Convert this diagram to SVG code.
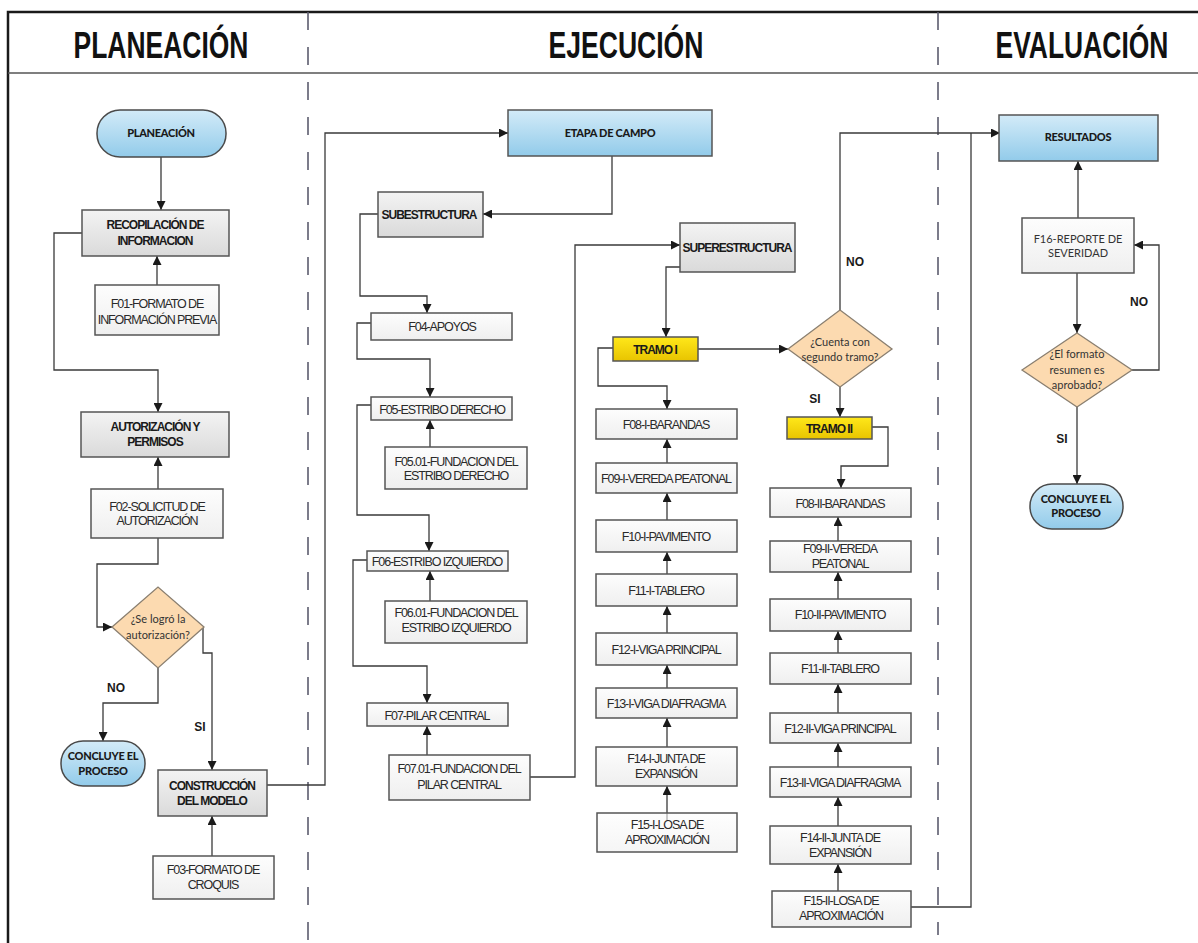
<svg xmlns="http://www.w3.org/2000/svg" width="1198" height="943" viewBox="0 0 1198 943">
<defs>
<linearGradient id="gBlue" x1="0" y1="0" x2="0" y2="1"><stop offset="0" stop-color="#d3ebf8"/><stop offset="1" stop-color="#92cbea"/></linearGradient>
<linearGradient id="gGray" x1="0" y1="0" x2="0" y2="1"><stop offset="0" stop-color="#f3f3f3"/><stop offset="1" stop-color="#dadada"/></linearGradient>
<linearGradient id="gWhite" x1="0" y1="0" x2="0" y2="1"><stop offset="0" stop-color="#fdfdfd"/><stop offset="1" stop-color="#efefef"/></linearGradient>
<linearGradient id="gYel" x1="0" y1="0" x2="0" y2="1"><stop offset="0" stop-color="#ffe81a"/><stop offset="1" stop-color="#e8c400"/></linearGradient>
<marker id="arr" viewBox="0 0 10 10" refX="10" refY="5" markerWidth="9" markerHeight="9" markerUnits="userSpaceOnUse" orient="auto"><path d="M0,0 L10,5 L0,10 z" fill="#1a1a1a"/></marker>
</defs>
<style>
.frame{stroke:#1a1a1a;stroke-width:2.5;fill:none}
.hline{stroke:#555;stroke-width:1.5;fill:none}
.dash{stroke:#5c5c6e;stroke-width:1.6;stroke-dasharray:18 17;fill:none}
.conn path{stroke:#3a3a3a;stroke-width:1.3;fill:none}
.arw{marker-end:url(#arr)}
.term{fill:url(#gBlue);stroke:#4a4a4a;stroke-width:1.5}
.blue{fill:url(#gBlue);stroke:#555;stroke-width:1.5}
.gray{fill:url(#gGray);stroke:#555;stroke-width:1.5}
.white{fill:url(#gWhite);stroke:#555;stroke-width:1.5}
.yel{fill:url(#gYel);stroke:#555;stroke-width:1.5}
.dia{fill:#fcdab0;stroke:#8a7f70;stroke-width:1.3}
.h{font-family:"Liberation Sans",Arial,sans-serif;font-weight:bold;font-size:37px;fill:#111;text-anchor:middle}
.t{font-family:"Liberation Sans",Arial,sans-serif;font-size:12.5px;letter-spacing:-1.1px;fill:#2a2a2a;text-anchor:middle}
.tb{font-family:"Liberation Sans",Arial,sans-serif;font-size:12px;letter-spacing:-1px;font-weight:bold;fill:#1a1a1a;text-anchor:middle}
.c{font-family:Lato,"Open Sans",sans-serif;font-size:11px;fill:#333;text-anchor:middle}
.cb{font-family:Lato,"Open Sans",sans-serif;font-size:11px;font-weight:900;fill:#1a1a1a;text-anchor:middle;letter-spacing:-0.3px}
.lbl{font-family:"Liberation Sans",Arial,sans-serif;font-size:12px;font-weight:bold;fill:#1a1a1a;text-anchor:middle}
</style>
<rect width="1198" height="943" fill="#ffffff"/>
<g id="frame">
<path class="frame" d="M8,943 V12 H1198"/>
<path class="hline" d="M8,73 H1198"/>
<path class="dash" d="M308,12 V943"/>
<path class="dash" d="M938,12 V935"/>
<text class="h" x="0" y="0" transform="translate(161 58) scale(0.715 1)">PLANEACIÓN</text>
<text class="h" x="0" y="0" transform="translate(626 58) scale(0.718 1)">EJECUCIÓN</text>
<text class="h" x="0" y="0" transform="translate(1082 58) scale(0.715 1)">EVALUACIÓN</text>
</g>
<g class="conn" id="connectors">
<path class="arw" d="M161,157 V210"/>
<path class="arw" d="M157,285 V256"/>
<path class="arw" d="M82,233 H54 V370 H158 V412"/>
<path class="arw" d="M158,489 V457"/>
<path class="arw" d="M158,538 V564 H97 V627 H112"/>
<path class="arw" d="M158,668 V703 H103 V741"/>
<path class="arw" d="M203,628 V653 H212 V770"/>
<path class="arw" d="M212,856 V816"/>
<path class="arw" d="M267,785 H325 V133 H508"/>
<path class="arw" d="M612,156 V214 H483"/>
<path class="arw" d="M378,214 H360 V296 H427 V313"/>
<path class="arw" d="M371,323 H357 V359 H430 V397"/>
<path class="arw" d="M430,447 V420"/>
<path class="arw" d="M371,405 H357 V515 H429 V551"/>
<path class="arw" d="M430,601 V571"/>
<path class="arw" d="M367,560 H353 V666 H427 V703"/>
<path class="arw" d="M427,755 V726"/>
<path class="arw" d="M530,777 H575 V245 H680"/>
<path class="arw" d="M680,267 H666 V337"/>
<path class="arw" d="M698,349 H788"/>
<path class="arw" d="M840,310 V133 H1000"/>
<path class="arw" d="M840,387 V417"/>
<path class="arw" d="M872,427 H888 V466 H841 V488"/>
<path class="arw" d="M613,348 H598 V386 H667 V409"/>
<path class="arw" d="M667,463 V439"/>
<path class="arw" d="M667,520 V493"/>
<path class="arw" d="M667,574 V552"/>
<path class="arw" d="M667,633 V606"/>
<path class="arw" d="M667,688 V665"/>
<path class="arw" d="M667,747 V718"/>
<path class="arw" d="M667,820 V786"/>
<path class="arw" d="M838,541 V517"/>
<path class="arw" d="M838,599 V572"/>
<path class="arw" d="M838,653 V631"/>
<path class="arw" d="M838,713 V684"/>
<path class="arw" d="M838,767 V743"/>
<path class="arw" d="M838,826 V797"/>
<path class="arw" d="M838,891 V864"/>
<path d="M911,907 H971 V133"/>
<path class="arw" d="M1078,218 V161"/>
<path class="arw" d="M1077,273 V333"/>
<path class="arw" d="M1132,370 H1159 V245 H1134"/>
<path class="arw" d="M1077,407 V484"/>
<text class="lbl" x="116" y="692">NO</text>
<text class="lbl" x="200" y="731">SI</text>
<text class="lbl" x="855" y="266">NO</text>
<text class="lbl" x="815" y="403">SI</text>
<text class="lbl" x="1139" y="306">NO</text>
<text class="lbl" x="1062" y="443">SI</text>
</g>
<g id="n-planeacion"><rect class="term" x="97" y="110" width="129" height="47" rx="23"/><text class="cb" x="161" y="137">PLANEACIÓN</text></g>
<g id="n-recopilacion"><rect class="gray" x="82" y="210" width="147" height="46"/><text class="tb" x="155" y="228.5">RECOPILACIÓN DE</text><text class="tb" x="155" y="244.5">INFORMACION</text></g>
<g id="n-f01"><rect class="white" x="95" y="285" width="124" height="50"/><text class="t" x="157" y="307.5">F01-FORMATO DE</text><text class="t" x="157" y="323.5">INFORMACIÓN PREVIA</text></g>
<g id="n-autorizacion"><rect class="gray" x="81" y="412" width="148" height="45"/><text class="tb" x="155" y="430.5">AUTORIZACIÓN Y</text><text class="tb" x="155" y="445.5">PERMISOS</text></g>
<g id="n-f02"><rect class="white" x="91" y="489" width="132" height="49"/><text class="t" x="157" y="510.5">F02-SOLICITUD DE</text><text class="t" x="157" y="524.5">AUTORIZACIÓN</text></g>
<g id="n-dec1"><path class="dia" d="M112,627 L158,587 L204,627 L158,668 Z"/><text class="c" x="158" y="623">¿Se logró la</text><text class="c" x="158" y="639">autorización?</text></g>
<g id="n-concluye1"><rect class="term" x="61" y="741" width="84" height="45" rx="22"/><text class="cb" x="103" y="760">CONCLUYE EL</text><text class="cb" x="103" y="775">PROCESO</text></g>
<g id="n-construccion"><rect class="gray" x="158" y="770" width="109" height="46"/><text class="tb" x="212" y="789.5">CONSTRUCCIÓN</text><text class="tb" x="212" y="804.5">DEL MODELO</text></g>
<g id="n-f03"><rect class="white" x="153" y="856" width="121" height="43"/><text class="t" x="213" y="873.5">F03-FORMATO DE</text><text class="t" x="213" y="888.5">CROQUIS</text></g>
<g id="n-etapa"><rect class="blue" x="508" y="110" width="204" height="46"/><text class="cb" x="610" y="137">ETAPA DE CAMPO</text></g>
<g id="n-subestructura"><rect class="gray" x="378" y="192" width="105" height="45"/><text class="tb" x="429" y="218.5">SUBESTRUCTURA</text></g>
<g id="n-f04"><rect class="white" x="371" y="313" width="141" height="27"/><text class="t" x="442" y="330.5">F04-APOYOS</text></g>
<g id="n-f05"><rect class="white" x="371" y="397" width="141" height="23"/><text class="t" x="442" y="413.5">F05-ESTRIBO DERECHO</text></g>
<g id="n-f0501"><rect class="white" x="385" y="447" width="142" height="42"/><text class="t" x="456" y="465.5">F05.01-FUNDACION DEL</text><text class="t" x="456" y="479.5">ESTRIBO DERECHO</text></g>
<g id="n-f06"><rect class="white" x="367" y="551" width="141" height="20"/><text class="t" x="437" y="565.5">F06-ESTRIBO IZQUIERDO</text></g>
<g id="n-f0601"><rect class="white" x="385" y="601" width="142" height="42"/><text class="t" x="456" y="616.5">F06.01-FUNDACION DEL</text><text class="t" x="456" y="631.5">ESTRIBO IZQUIERDO</text></g>
<g id="n-f07"><rect class="white" x="367" y="703" width="141" height="23"/><text class="t" x="437" y="719.5">F07-PILAR CENTRAL</text></g>
<g id="n-f0701"><rect class="white" x="389" y="755" width="141" height="45"/><text class="t" x="459" y="772.5">F07.01-FUNDACION DEL</text><text class="t" x="459" y="788.5">PILAR CENTRAL</text></g>
<g id="n-superestructura"><rect class="gray" x="680" y="223" width="115" height="49"/><text class="tb" x="737" y="251.5">SUPERESTRUCTURA</text></g>
<g id="n-tramo1"><rect class="yel" x="613" y="337" width="85" height="24"/><text class="tb" x="655" y="353.5">TRAMO I</text></g>
<g id="n-dec2"><path class="dia" d="M788,349 L840,310 L892,349 L840,387 Z"/><text class="c" x="840" y="346">¿Cuenta con</text><text class="c" x="840" y="361">segundo tramo?</text></g>
<g id="n-tramo2"><rect class="yel" x="787" y="417" width="85" height="22"/><text class="tb" x="829" y="432.5">TRAMO II</text></g>
<g id="n-f08i"><rect class="white" x="596" y="409" width="141" height="30"/><text class="t" x="666" y="428.5">F08-I-BARANDAS</text></g>
<g id="n-f09i"><rect class="white" x="596" y="463" width="141" height="30"/><text class="t" x="666" y="482.5">F09-I-VEREDA PEATONAL</text></g>
<g id="n-f10i"><rect class="white" x="596" y="520" width="141" height="32"/><text class="t" x="666" y="540.5">F10-I-PAVIMENTO</text></g>
<g id="n-f11i"><rect class="white" x="596" y="574" width="141" height="32"/><text class="t" x="666" y="594.5">F11-I-TABLERO</text></g>
<g id="n-f12i"><rect class="white" x="596" y="633" width="141" height="32"/><text class="t" x="666" y="653.5">F12-I-VIGA PRINCIPAL</text></g>
<g id="n-f13i"><rect class="white" x="596" y="688" width="141" height="30"/><text class="t" x="666" y="707.5">F13-I-VIGA DIAFRAGMA</text></g>
<g id="n-f14i"><rect class="white" x="596" y="747" width="141" height="39"/><text class="t" x="666" y="762.5">F14-I-JUNTA DE</text><text class="t" x="666" y="777.5">EXPANSIÓN</text></g>
<g id="n-f15i"><rect class="white" x="597" y="813" width="140" height="39" fill-opacity="0.6"/><text class="t" x="667" y="828.5">F15-I-LOSA DE</text><text class="t" x="667" y="843.5">APROXIMACIÓN</text></g>
<g id="n-f08ii"><rect class="white" x="770" y="488" width="141" height="29"/><text class="t" x="840" y="507.5">F08-II-BARANDAS</text></g>
<g id="n-f09ii"><rect class="white" x="770" y="541" width="141" height="31"/><text class="t" x="840" y="552.5">F09-II-VEREDA</text><text class="t" x="840" y="567.5">PEATONAL</text></g>
<g id="n-f10ii"><rect class="white" x="770" y="599" width="141" height="32"/><text class="t" x="840" y="618.5">F10-II-PAVIMENTO</text></g>
<g id="n-f11ii"><rect class="white" x="770" y="653" width="141" height="31"/><text class="t" x="840" y="672.5">F11-II-TABLERO</text></g>
<g id="n-f12ii"><rect class="white" x="770" y="713" width="141" height="30"/><text class="t" x="840" y="732.5">F12-II-VIGA PRINCIPAL</text></g>
<g id="n-f13ii"><rect class="white" x="770" y="767" width="141" height="30"/><text class="t" x="840" y="786.5">F13-II-VIGA DIAFRAGMA</text></g>
<g id="n-f14ii"><rect class="white" x="770" y="826" width="141" height="38"/><text class="t" x="840" y="841.5">F14-II-JUNTA DE</text><text class="t" x="840" y="856.5">EXPANSIÓN</text></g>
<g id="n-f15ii"><rect class="white" x="772" y="891" width="139" height="36"/><text class="t" x="841" y="904.5">F15-II-LOSA DE</text><text class="t" x="841" y="919.5">APROXIMACIÓN</text></g>
<g id="n-resultados"><rect class="blue" x="999" y="115" width="159" height="46"/><text class="cb" x="1078" y="141">RESULTADOS</text></g>
<g id="n-f16"><rect class="white" x="1022" y="218" width="112" height="55"/><text class="c" x="1078" y="243">F16-REPORTE DE</text><text class="c" x="1078" y="257">SEVERIDAD</text></g>
<g id="n-dec3"><path class="dia" d="M1022,370 L1077,333 L1132,370 L1077,407 Z"/><text class="c" x="1077" y="358">¿El formato</text><text class="c" x="1077" y="374">resumen es</text><text class="c" x="1077" y="389">aprobado?</text></g>
<g id="n-concluye2"><rect class="term" x="1030" y="484" width="93" height="45" rx="22"/><text class="cb" x="1076" y="503">CONCLUYE EL</text><text class="cb" x="1076" y="517">PROCESO</text></g>
</svg>
